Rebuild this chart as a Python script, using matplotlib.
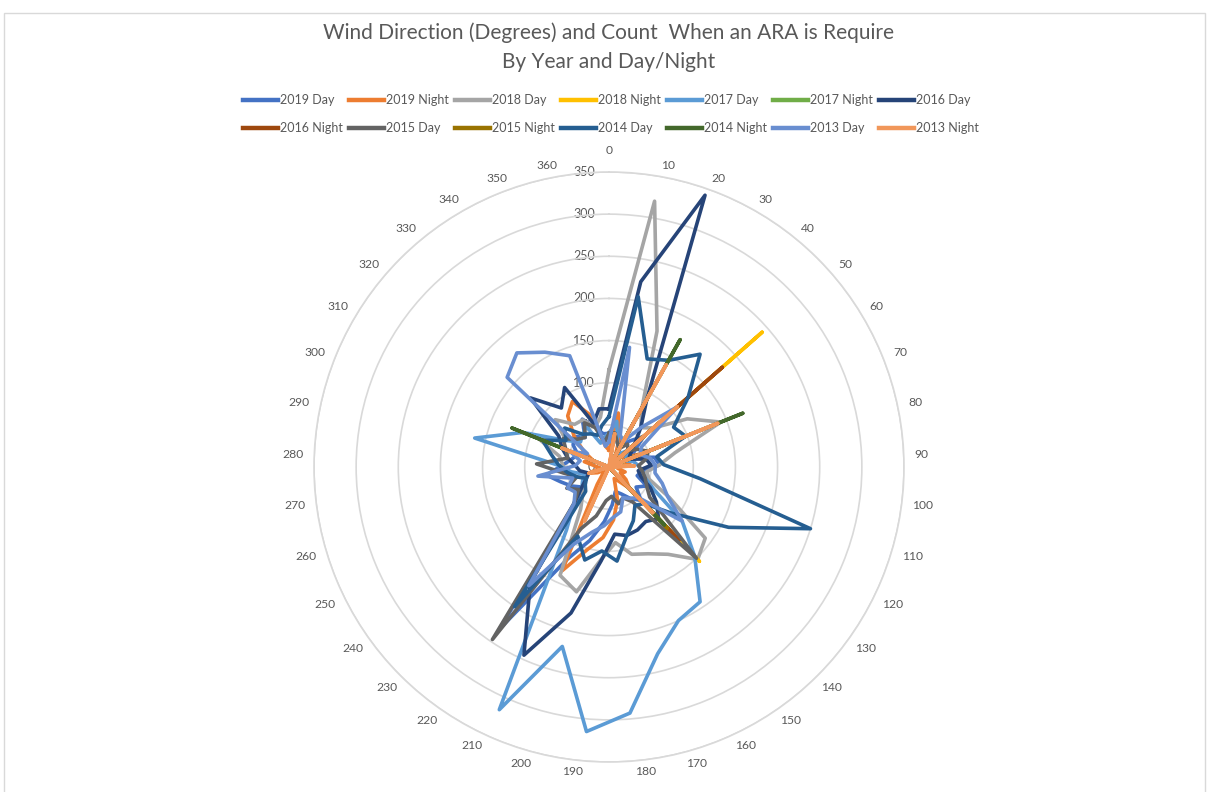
import matplotlib.pyplot as plt
import numpy as np
from matplotlib.transforms import offset_copy
from matplotlib.lines import Line2D
from matplotlib.patches import Rectangle

plt.rcParams['font.family'] = ['Lato', 'DejaVu Sans']

# wind direction categories (degrees), 0..360 in steps of 10
directions = list(range(0, 361, 10))

series_names = ['2019 Day', '2019 Night', '2018 Day', '2018 Night', '2017 Day', '2017 Night', '2016 Day',
                '2016 Night', '2015 Day', '2015 Night', '2014 Day', '2014 Night', '2013 Day', '2013 Night']
series_colors = ['#4472C4', '#ED7D31', '#A5A5A5', '#FFC000', '#5B9BD5', '#70AD47', '#264478',
                 '#9E480E', '#636363', '#997300', '#255E91', '#43682B', '#698ED0', '#F1975A']

day_2019 = [40, 55, 35, 30, 40, 55, 35, 30, 55, 60, 40, 35, 50, 40, 55, 45, 35, 30, 45,
            65, 90, 120, 232, 55, 40, 50, 60, 75, 55, 45, 40, 50, 55, 45, 65, 50, 40]
night_2019 = [20, 65, 40, 15, 10, 30, 20, 45, 25, 15, 10, 20, 15, 25, 35, 20, 15, 40, 63,
              84, 101, 135, 25, 10, 5, 15, 25, 10, 15, 30, 20, 35, 55, 78, 89, 65, 25]
day_2018 = [115, 320, 171, 80, 60, 70, 109, 143, 80, 60, 45, 50, 80, 142, 152, 125, 113, 107, 90,
            110, 153, 141, 60, 45, 40, 30, 40, 50, 55, 60, 90, 60, 85, 65, 64, 50, 60]
night_2018 = [0, 0, 0, 0, 0, 242, 0, 0, 0, 0, 0, 0, 0, 0, 155, 0, 0, 0, 0,
              0, 0, 0, 0, 0, 0, 0, 0, 0, 0, 0, 0, 0, 0, 0, 0, 0, 0]
day_2017 = [40, 55, 30, 25, 20, 30, 25, 20, 30, 35, 40, 45, 60, 108, 147, 193, 200, 229, 293,
            315, 220, 316, 90, 60, 40, 35, 30, 45, 62, 163, 110, 60, 45, 50, 55, 30, 35]
night_2017 = [0, 0, 0, 60, 0, 0, 0, 80, 0, 0, 0, 0, 0, 0, 100, 0, 0, 0, 0,
              0, 0, 0, 0, 0, 0, 0, 0, 0, 0, 0, 0, 0, 0, 0, 0, 0, 0]
day_2016 = [69, 223, 342, 92, 60, 40, 30, 25, 45, 50, 35, 40, 55, 70, 85, 78, 82, 84, 80,
            112, 179, 245, 167, 60, 40, 30, 25, 35, 40, 50, 60, 70, 124, 90, 108, 55, 70]
night_2016 = [0, 0, 0, 100, 0, 179, 0, 0, 0, 0, 0, 0, 0, 0, 120, 0, 0, 0, 0,
              0, 0, 0, 0, 0, 0, 0, 0, 0, 0, 0, 0, 0, 0, 0, 0, 0, 0]
day_2015 = [40, 41, 30, 25, 35, 30, 40, 50, 45, 35, 40, 45, 50, 60, 150, 50, 40, 45, 35,
            40, 60, 80, 247, 60, 45, 56, 40, 55, 86, 50, 55, 64, 50, 45, 60, 50, 30]
night_2015 = [0, 0, 0, 0, 0, 90, 0, 90, 0, 0, 0, 0, 0, 0, 100, 0, 0, 0, 0,
              0, 0, 0, 0, 0, 0, 0, 0, 0, 0, 0, 0, 0, 0, 0, 0, 0, 0]
day_2014 = [60, 205, 136, 145, 172, 125, 90, 98, 58, 65, 109, 250, 159, 92, 60, 55, 70, 84, 112,
            100, 114, 90, 200, 40, 35, 30, 40, 50, 60, 70, 85, 60, 70, 50, 45, 40, 50]
night_2014 = [0, 0, 0, 173, 0, 0, 0, 171, 0, 0, 0, 0, 0, 0, 95, 0, 0, 0, 0,
              0, 0, 0, 0, 0, 0, 0, 0, 0, 0, 0, 124, 0, 0, 0, 0, 0, 0]
day_2013 = [30, 144, 40, 35, 60, 108, 45, 40, 50, 55, 55, 66, 78, 108, 50, 45, 40, 55, 60,
            70, 80, 100, 170, 60, 50, 55, 45, 85, 40, 35, 50, 30, 161, 174, 156, 140, 25]
night_2013 = [0, 40, 0, 139, 0, 108, 0, 139, 0, 30, 0, 0, 0, 0, 75, 0, 0, 0, 0,
              0, 0, 70, 0, 0, 0, 0, 25, 0, 0, 0, 60, 0, 0, 0, 0, 0, 0]

all_series = [day_2019, night_2019, day_2018, night_2018, day_2017, night_2017, day_2016,
              night_2016, day_2015, night_2015, day_2014, night_2014, day_2013, night_2013]

fig = plt.figure(figsize=(12.08, 7.92), dpi=100)
fig.patches.append(Rectangle((4 / 1208, -0.01), 1201 / 1208, 787 / 792, transform=fig.transFigure,
                             fill=False, edgecolor='#D9D9D9', linewidth=1))

ax = fig.add_axes([314 / 1208, 30 / 792, 590 / 1208, 590 / 792], polar=True)
ax.set_theta_zero_location('N')
ax.set_theta_direction(-1)

n = len(directions)
theta = np.arange(n) * 2 * np.pi / n
theta_closed = np.append(theta, 2 * np.pi)

for name, color, vals in zip(series_names, series_colors, all_series):
    v = np.append(vals, vals[0])
    ax.plot(theta_closed, v, color=color, linewidth=2.6, solid_joinstyle='round', zorder=3)

ax.set_ylim(0, 350)
ax.set_yticks(range(0, 351, 50))
ax.set_yticklabels([])
ax.yaxis.grid(True, color='#D9D9D9', linewidth=1.2)
ax.xaxis.grid(False)
ax.spines['polar'].set_color('#D9D9D9')
ax.spines['polar'].set_linewidth(1.2)
ax.set_xticks(theta)
ax.set_xticklabels([])
ax.tick_params(axis='x', length=0)

# category labels, placed just outside the outer ring like Excel does
for t, d in zip(theta, directions):
    s = np.sin(t)
    if abs(s) < 0.05:
        ax.text(t, 369, str(d), ha='center', va='bottom', color='#595959', fontsize=8.7, clip_on=False)
    else:
        ax.text(t, 363, str(d), ha='left' if s > 0 else 'right', va='center',
                color='#595959', fontsize=8.7, clip_on=False)

# radial value labels along the 0 direction
lab_tr = offset_copy(ax.transData, fig=fig, x=-14, y=0, units='dots')
for r in range(0, 351, 50):
    ax.text(0, r, str(r), transform=lab_tr, ha='right', va='center', color='#595959',
            fontsize=9, zorder=1)

fig.text(0.504, 1 - 33 / 792, 'Wind Direction (Degrees) and Count  When an ARA is Require',
         ha='center', va='center', fontsize=15, color='#595959')
fig.text(0.504, 1 - 62 / 792, 'By Year and Day/Night', ha='center', va='center', fontsize=15, color='#595959')

# legend reads row by row, like the original
order = []
for i in range(7):
    order += [i, i + 7]
handles = [Line2D([], [], color=series_colors[i], linewidth=3.2) for i in order]
labels = [series_names[i] for i in order]
fig.legend(handles, labels, ncol=7, loc='center', bbox_to_anchor=(0.506, 1 - 114 / 792),
           frameon=False, fontsize=9, handlelength=2.8, handletextpad=0.15, columnspacing=0.5,
           labelspacing=1.3, labelcolor='#595959')

fig.savefig('out.png', dpi=100)
